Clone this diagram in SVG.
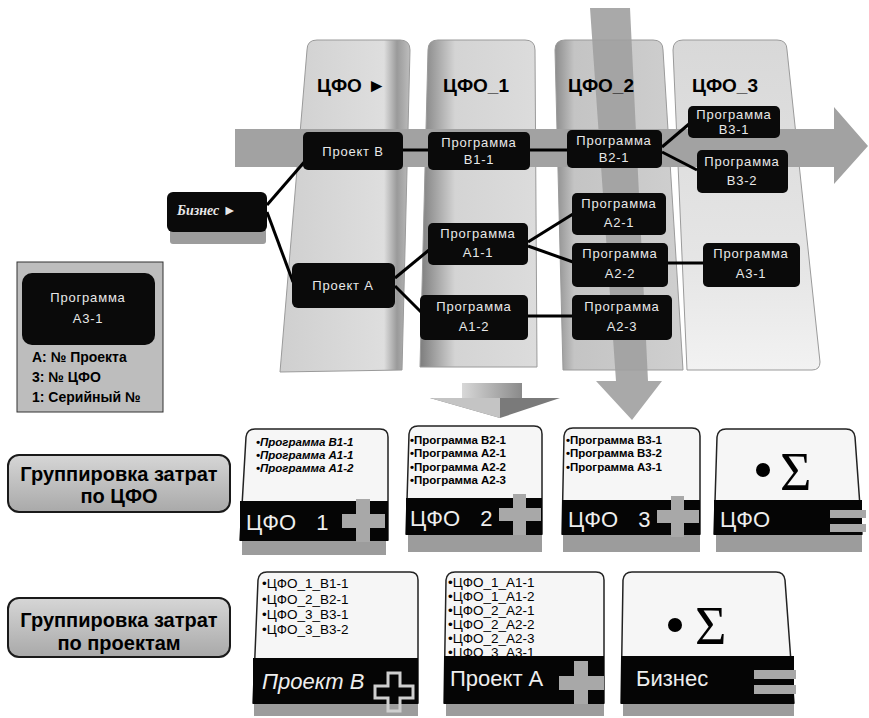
<svg xmlns="http://www.w3.org/2000/svg" width="869" height="718" viewBox="0 0 869 718">
<defs>
<style>
.col{stroke:#9a9a9a;stroke-width:1}
.hdr{font-family:"Liberation Sans",Arial,sans-serif;font-weight:bold;font-size:19px;fill:#000}
.node{fill:#0a0a0a}
.nt{font-family:"Liberation Sans",Arial,sans-serif;font-size:13px;fill:#e8e8e8;text-anchor:middle;letter-spacing:0.8px}
.conn{stroke:#000;stroke-width:3;fill:none}
.leg{font-family:"Liberation Sans",Arial,sans-serif;font-weight:bold;font-size:14px;fill:#000}
.btn{fill:url(#btnG);stroke:#1a1a1a;stroke-width:2}
.bt{font-family:"Liberation Sans",Arial,sans-serif;font-weight:bold;font-size:20px;fill:#000;text-anchor:middle}
.card{fill:#f6f6f6;stroke:#222;stroke-width:1.5}
.band{fill:#050505}
.shadow{fill:#9c9c9c}
.li{font-family:"Liberation Sans",Arial,sans-serif;font-weight:bold;font-size:11.5px;fill:#000}
.lp{font-family:"Liberation Sans",Arial,sans-serif;font-size:13.5px;fill:#000}
.cl{font-family:"Liberation Sans",Arial,sans-serif;font-size:22px;fill:#eee}
.sig{font-family:"Liberation Serif","Times New Roman",serif;font-size:54px;fill:#000}
.plus{fill:#a8a8a8}
</style>
<linearGradient id="btnG" x1="0" y1="0" x2="0" y2="1">
<stop offset="0" stop-color="#d6d6d6"/><stop offset="1" stop-color="#a9a9a9"/>
</linearGradient>
<linearGradient id="c0" x1="0" y1="0" x2="1" y2="0">
<stop offset="0" stop-color="#cfcfcf"/><stop offset="0.8" stop-color="#dedede"/><stop offset="0.9" stop-color="#9a9a9a"/><stop offset="1" stop-color="#bdbdbd"/>
</linearGradient>
<linearGradient id="c1" x1="0" y1="0" x2="1" y2="0">
<stop offset="0" stop-color="#7d7d7d"/><stop offset="0.15" stop-color="#a8a8a8"/><stop offset="0.3" stop-color="#d4d4d4"/><stop offset="1" stop-color="#dcdcdc"/>
</linearGradient>
<linearGradient id="c2" x1="0" y1="0" x2="1" y2="0">
<stop offset="0" stop-color="#8c8c8c"/><stop offset="0.15" stop-color="#c4c4c4"/><stop offset="1" stop-color="#cfcfcf"/>
</linearGradient>
<linearGradient id="c3" x1="0" y1="0" x2="0" y2="1">
<stop offset="0" stop-color="#d8d8d8"/><stop offset="0.7" stop-color="#e6e6e6"/><stop offset="1" stop-color="#f2f2f2"/>
</linearGradient>
<linearGradient id="arr3d" x1="0" y1="0" x2="1" y2="0">
<stop offset="0" stop-color="#d8d8d8"/><stop offset="1" stop-color="#8a8a8a"/>
</linearGradient>
</defs>

<rect width="869" height="718" fill="#fff"/>

<g id="columns">
<path id="col0" class="col" fill="url(#c0)" d="M307,50 Q307,40 317,40 L400,40 Q410,40 410,50 L402,370 L280,372 Z"/>
<path id="col1" class="col" fill="url(#c1)" d="M428,50 Q428,40 438,40 L525,40 Q535,40 535,50 L537,367 L420,367 Z"/>
<path id="col2" class="col" fill="url(#c2)" d="M555,50 Q555,40 565,40 L653,40 Q663,40 663,50 L683,370 L563,370 Z"/>
<path id="col3" class="col" fill="url(#c3)" d="M673,50 Q673,40 683,40 L777,40 Q787,40 787,50 L820,362 Q820,370 812,370 L687,370 Z"/>
</g>

<g id="h-arrow">
<polygon fill="#a2a2a2" points="235,129 834,129 834,107 868,146 834,184 834,167 235,167"/>
</g>

<g id="v-arrow">
<polygon fill="#a0a0a0" opacity="0.9" points="590,8 630,8 648,381 662,381 632,420 596,381 616,381"/>
</g>

<g id="headers">
<text class="hdr" x="317" y="92">ЦФО ►</text>
<text class="hdr" x="443" y="92">ЦФО_1</text>
<text class="hdr" x="568" y="92">ЦФО_2</text>
<text class="hdr" x="692" y="92">ЦФО_3</text>
</g>

<g id="connectors">
<line class="conn" x1="267" y1="205" x2="306" y2="160"/>
<line class="conn" x1="267" y1="212" x2="293" y2="282"/>
<line class="conn" x1="403" y1="150" x2="428" y2="150"/>
<line class="conn" x1="530" y1="150" x2="567" y2="150"/>
<line class="conn" x1="662" y1="147" x2="689" y2="124"/>
<line class="conn" x1="662" y1="152" x2="697" y2="170"/>
<line class="conn" x1="395" y1="278" x2="429" y2="250"/>
<line class="conn" x1="395" y1="286" x2="422" y2="313"/>
<line class="conn" x1="528" y1="242" x2="573" y2="214"/>
<line class="conn" x1="528" y1="246" x2="573" y2="262"/>
<line class="conn" x1="528" y1="316" x2="573" y2="316"/>
<line class="conn" x1="668" y1="263" x2="704" y2="263"/>
</g>

<g id="n-biznes">
<rect class="shadow" x="170" y="228" width="96" height="16" rx="3"/>
<rect class="node" x="167" y="192" width="100" height="40" rx="6"/>
<text x="177" y="215" font-family="Liberation Serif,serif" font-style="italic" font-weight="bold" font-size="14" fill="#e8e8e8">Бизнес ►</text>
</g>
<g id="n-proektB">
<rect class="node" x="303" y="132" width="100" height="38" rx="5"/>
<text class="nt" x="353" y="156">Проект В</text>
</g>
<g id="n-B1-1">
<rect class="node" x="428" y="132" width="102" height="38" rx="5"/>
<text class="nt" x="479" y="147">Программа</text>
<text class="nt" x="479" y="164">В1-1</text>
</g>
<g id="n-B2-1">
<rect class="node" x="567" y="130" width="95" height="38" rx="5"/>
<text class="nt" x="614" y="145">Программа</text>
<text class="nt" x="614" y="162">В2-1</text>
</g>
<g id="n-B3-1">
<rect class="node" x="688" y="106" width="92" height="32" rx="5"/>
<text class="nt" x="734" y="119">Программа</text>
<text class="nt" x="734" y="134">В3-1</text>
</g>
<g id="n-B3-2">
<rect class="node" x="697" y="150" width="91" height="43" rx="5"/>
<text class="nt" x="742" y="166">Программа</text>
<text class="nt" x="742" y="185">В3-2</text>
</g>
<g id="n-proektA">
<rect class="node" x="292" y="263" width="103" height="45" rx="6"/>
<text class="nt" x="343" y="290">Проект А</text>
</g>
<g id="n-A1-1">
<rect class="node" x="428" y="223" width="100" height="42" rx="5"/>
<text class="nt" x="478" y="238">Программа</text>
<text class="nt" x="478" y="257">А1-1</text>
</g>
<g id="n-A1-2">
<rect class="node" x="420" y="295" width="108" height="45" rx="5"/>
<text class="nt" x="474" y="311">Программа</text>
<text class="nt" x="474" y="331">А1-2</text>
</g>
<g id="n-A2-1">
<rect class="node" x="572" y="193" width="94" height="42" rx="5"/>
<text class="nt" x="619" y="208">Программа</text>
<text class="nt" x="619" y="227">А2-1</text>
</g>
<g id="n-A2-2">
<rect class="node" x="572" y="243" width="96" height="44" rx="5"/>
<text class="nt" x="620" y="258">Программа</text>
<text class="nt" x="620" y="278">А2-2</text>
</g>
<g id="n-A2-3">
<rect class="node" x="572" y="295" width="100" height="45" rx="5"/>
<text class="nt" x="622" y="311">Программа</text>
<text class="nt" x="622" y="331">А2-3</text>
</g>
<g id="n-A3-1">
<rect class="node" x="703" y="243" width="97" height="44" rx="5"/>
<text class="nt" x="751" y="258">Программа</text>
<text class="nt" x="751" y="278">А3-1</text>
</g>

<g id="legend">
<rect x="17" y="262" width="146" height="150" fill="#bdbdbd" stroke="#333" stroke-width="1"/>
<rect class="node" x="22" y="273" width="133" height="72" rx="10"/>
<text class="nt" x="88" y="302">Программа</text>
<text class="nt" x="88" y="323">А3-1</text>
<text class="leg" x="32" y="362">А: № Проекта</text>
<text class="leg" x="32" y="382">3: № ЦФО</text>
<text class="leg" x="32" y="402">1: Серийный №</text>
</g>

<g id="down-arrow">
<polygon fill="url(#arr3d)" points="462,383 522,383 522,400 462,400"/>
<polygon fill="#7a7a7a" points="430,398 560,398 500,418"/>
<polygon fill="#c4c4c4" points="430,398 500,398 500,418"/>
</g>

<g id="btn-cfo">
<rect class="btn" x="8" y="455" width="222" height="57" rx="11"/>
<text class="bt" x="119" y="481">Группировка затрат</text>
<text class="bt" x="119" y="503">по ЦФО</text>
</g>
<g id="btn-proj">
<rect class="btn" x="8" y="598" width="222" height="59" rx="11"/>
<text class="bt" x="119" y="627">Группировка затрат</text>
<text class="bt" x="119" y="650">по проектам</text>
</g>

<g id="card-cfo1">
<rect class="shadow" x="242" y="535" width="144" height="20"/>
<path class="card" d="M240,540 L246,437 Q247,429 255,429 L380,429 Q388,429 388,437 L388,540 Z"/>
<text class="li" font-style="italic" x="256" y="446">•Программа В1-1</text>
<text class="li" font-style="italic" x="256" y="459">•Программа А1-1</text>
<text class="li" font-style="italic" x="256" y="472">•Программа А1-2</text>
<rect class="band" x="240" y="501" width="148" height="40"/>
<text class="cl" x="246" y="530" word-spacing="14">ЦФО 1</text>
<path class="plus" d="M356,499 h14 v15 h15 v14 h-15 v14 h-14 v-14 h-14 v-14 h14 z"/>
</g>
<g id="card-cfo2">
<rect class="shadow" x="408" y="530" width="134" height="22"/>
<path class="card" d="M406,534 L409,434 Q410,426 418,426 L534,426 Q542,426 542,434 L542,534 Z"/>
<text class="li" x="410" y="444">•Программа В2-1</text>
<text class="li" x="410" y="457">•Программа А2-1</text>
<text class="li" x="410" y="471">•Программа А2-2</text>
<text class="li" x="410" y="484">•Программа А2-3</text>
<rect class="band" x="406" y="498" width="136" height="37"/>
<text class="cl" x="410" y="526" word-spacing="14">ЦФО 2</text>
<path class="plus" d="M513,494 h13 v14 h15 v13 h-15 v14 h-13 v-14 h-14 v-13 h14 z"/>
</g>
<g id="card-cfo3">
<rect class="shadow" x="563" y="530" width="137" height="22"/>
<path class="card" d="M562,534 L564,436 Q565,428 573,428 L692,428 Q700,428 700,436 L700,534 Z"/>
<text class="li" x="566" y="444">•Программа В3-1</text>
<text class="li" x="566" y="457">•Программа В3-2</text>
<text class="li" x="566" y="471">•Программа А3-1</text>
<rect class="band" x="562" y="500" width="138" height="35"/>
<text class="cl" x="568" y="527" word-spacing="14">ЦФО 3</text>
<path class="plus" d="M671,496 h13 v14 h15 v13 h-15 v14 h-13 v-14 h-14 v-13 h14 z"/>
</g>
<g id="card-cfo-sum">
<rect class="shadow" x="716" y="530" width="146" height="22"/>
<path class="card" d="M714,534 L717,437 Q718,429 726,429 L846,429 Q854,429 855,437 L862,534 Z"/>
<circle cx="763" cy="470" r="7" fill="#000"/>
<text class="sig" x="780" y="490">Σ</text>
<rect class="band" x="714" y="500" width="148" height="35"/>
<text class="cl" x="720" y="527">ЦФО</text>
<rect class="plus" x="830" y="510" width="36" height="8"/>
<rect class="plus" x="830" y="524" width="36" height="8"/>
</g>

<g id="card-projB">
<rect class="shadow" x="254" y="700" width="164" height="16"/>
<path class="card" d="M253,703 L258,580 Q259,572 267,572 L410,572 Q418,572 418,580 L418,703 Z"/>
<text class="lp" x="262" y="588">•ЦФО_1_В1-1</text>
<text class="lp" x="262" y="604">•ЦФО_2_В2-1</text>
<text class="lp" x="262" y="619">•ЦФО_3_В3-1</text>
<text class="lp" x="262" y="634">•ЦФО_3_В3-2</text>
<rect class="band" x="253" y="658" width="165" height="46"/>
<text class="cl" font-style="italic" x="262" y="689">Проект В</text>
<path fill="none" stroke="#cfcfcf" stroke-width="3" d="M388,673 h12 v13 h13 v12 h-13 v13 h-12 v-13 h-13 v-12 h13 z"/>
</g>
<g id="card-projA">
<rect class="shadow" x="446" y="700" width="158" height="16"/>
<path class="card" d="M444,703 L446,580 Q447,572 455,572 L596,572 Q604,572 604,580 L604,703 Z"/>
<text class="lp" font-size="12.5" x="448" y="587">•ЦФО_1_А1-1</text>
<text class="lp" font-size="12.5" x="448" y="601">•ЦФО_1_А1-2</text>
<text class="lp" font-size="12.5" x="448" y="615">•ЦФО_2_А2-1</text>
<text class="lp" font-size="12.5" x="448" y="629">•ЦФО_2_А2-2</text>
<text class="lp" font-size="12.5" x="448" y="643">•ЦФО_2_А2-3</text>
<text class="lp" font-size="12.5" x="448" y="657">•ЦФО_3_А3-1</text>
<rect class="band" x="444" y="656" width="160" height="48"/>
<text class="cl" x="450" y="686">Проект А</text>
<path class="plus" d="M574,661 h14 v15 h16 v14 h-16 v14 h-14 v-14 h-15 v-14 h15 z"/>
</g>
<g id="card-biznes">
<rect class="shadow" x="623" y="700" width="171" height="16"/>
<path class="card" d="M621,703 L623,580 Q624,572 632,572 L776,572 Q784,572 785,580 L794,703 Z"/>
<circle cx="675" cy="625" r="7" fill="#000"/>
<text class="sig" x="695" y="644">Σ</text>
<rect class="band" x="621" y="656" width="173" height="48"/>
<text class="cl" x="636" y="686">Бизнес</text>
<rect class="plus" x="754" y="670" width="42" height="9"/>
<rect class="plus" x="754" y="685" width="42" height="9"/>
</g>
</svg>
